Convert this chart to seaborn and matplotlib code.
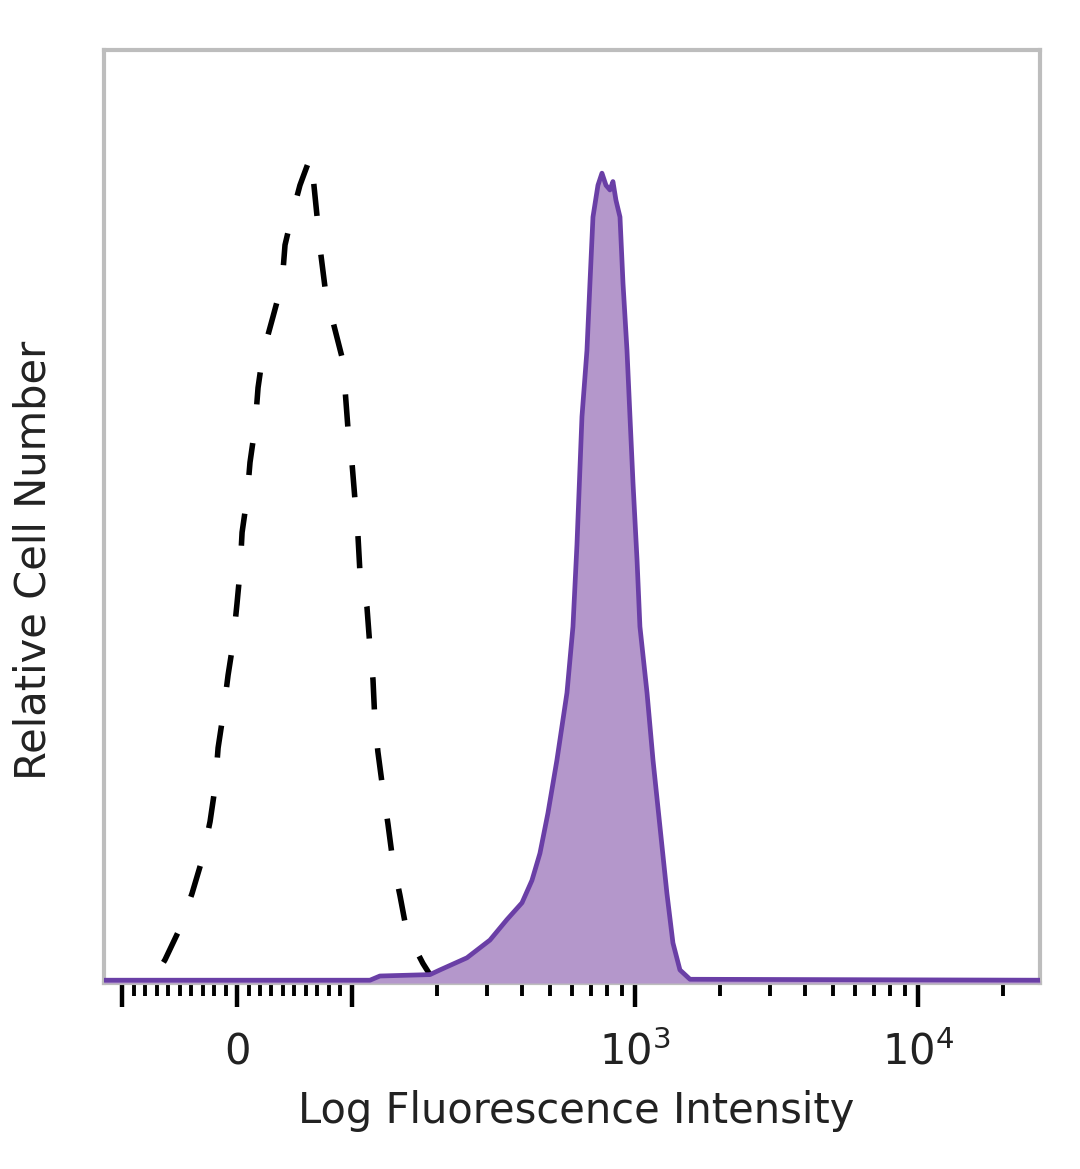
import numpy as np
import pandas as pd
import matplotlib
matplotlib.use("Agg")
import matplotlib.pyplot as plt
import seaborn as sns

# ---- data (x in fluorescence units, y in % of axis height)
iso_x = [-116, -75, -62.7, -49.6, -39.2, -30.5, -23.5, -19.1, -16.5, -12.2, -7.8, -3.5, 0.0,
         2.6, 4.4, 8.7, 11.3, 15.7, 18.3, 22.6, 31.3, 39.2, 41.8, 47.9, 54.8, 64.4,
         69.6, 72.2, 76.6, 82.7, 91.4, 94.0, 96.6, 100.1, 102.6, 105.1, 106.8, 113.1,
         115.9, 118.8, 120.6, 123.6, 128.8, 134.1, 139.7, 147.9, 156.6, 178.3, 188.8,
         200, 27000]
iso_y = [0, 0, 2.5, 5.9, 9.6, 13.2, 17.3, 21.0, 25.2, 28.7, 33.0, 36.4, 40.7,
         44.1, 48.3, 52.0, 55.8, 59.6, 63.8, 67.5, 71.4, 75.0, 79.1, 82.3, 85.5, 88.7,
         82.3, 78.9, 74.6, 71.3, 67.1, 63.8, 59.5, 55.8, 51.8, 48.0, 44.1, 40.3,
         36.0, 32.5, 28.2, 24.8, 20.7, 17.1, 13.0, 9.4, 5.4, 2.1, 0.9,
         0, 0]

stain_x = [-116, 115.9, 125.7, 188.8, 204.8, 255.1, 307.6, 353.3, 399.3, 432.9, 462.0,
           493.0, 530.5, 575.6, 604.4, 624.4, 650.3, 677.2, 693.9, 711.2, 740.6, 765.1,
           790.6, 816.6, 836.6, 857.4, 886, 908, 938, 961, 985, 1018, 1042, 1104,
           1159, 1227, 1298, 1363, 1443, 1566, 27000]
stain_y = [0.3, 0.3, 0.75, 0.9, 1.4, 2.7, 4.6, 6.8, 8.6, 11.0, 13.9,
           18.2, 23.9, 31.1, 38.2, 47.0, 60.7, 67.8, 75.0, 82.1, 85.5, 86.8,
           85.5, 85.0, 85.9, 83.9, 82.1, 75.0, 67.8, 60.7, 53.6, 45.3, 38.2, 31.1,
           23.9, 16.7, 9.6, 4.3, 1.4, 0.4, 0.3]

major_ticks = [-100, 0, 100, 1000, 10000]
major_labels = ["", "0", "", r"$\mathregular{10^3}$", r"$\mathregular{10^4}$"]
minor_ticks = ([-90, -80, -70, -60, -50, -40, -30, -20, -10,
                10, 20, 30, 40, 50, 60, 70, 80, 90]
               + [200, 300, 400, 500, 600, 700, 800, 900]
               + [2000, 3000, 4000, 5000, 6000, 7000, 8000, 9000, 20000])

x_label = "Log Fluorescence Intensity"
y_label = "Relative Cell Number"

iso = pd.DataFrame({"x": iso_x, "y": iso_y})
stain = pd.DataFrame({"x": stain_x, "y": stain_y})

sns.set_theme(style="white")
plt.rcParams["font.family"] = ["DejaVu Sans"]

fig = plt.figure(figsize=(10.8, 11.69), dpi=100)
ax = fig.add_axes([104 / 1080, 1 - 983 / 1169, 936 / 1080, 933 / 1169])
ax.set_xscale("symlog", linthresh=100, linscale=0.365)

purple_line = "#6a3fa6"
purple_fill = "#b497cb"

sns.lineplot(data=iso, x="x", y="y", ax=ax, color="black", lw=4.0,
             dashes=False, estimator=None, sort=False, zorder=2)
ax.lines[-1].set_dashes((5.8, 7.0))
ax.fill_between(stain["x"], 0, stain["y"], color=purple_fill, lw=0, zorder=3)
sns.lineplot(data=stain, x="x", y="y", ax=ax, color=purple_line, lw=3.4,
             estimator=None, sort=False, zorder=4)

ax.set_xlim(-116, 27000)
ax.set_ylim(0, 100)

for s in ax.spines.values():
    s.set_color("#bdbdbd")
    s.set_linewidth(3)

ax.set_yticks([])
ax.set_xticks(major_ticks)
ax.set_xticklabels(major_labels)
ax.set_xticks(minor_ticks, minor=True)
ax.tick_params(axis="x", which="major", direction="out", length=17, width=3.2,
               color="black", bottom=True, labelsize=30, pad=42, labelcolor="#222222")
ax.tick_params(axis="x", which="minor", direction="out", length=9, width=2.8,
               color="black", bottom=True)
for t in ax.get_xticklabels():
    t.set_va("baseline")

ax.set_xlabel(x_label, fontsize=30, color="#222222")
ax.set_ylabel(y_label, fontsize=30, color="#222222")
ax.xaxis.set_label_coords(0.504, -0.115)
ax.yaxis.set_label_coords(-0.053, 0.453)

fig.savefig("out.png", dpi=100, facecolor="white")
